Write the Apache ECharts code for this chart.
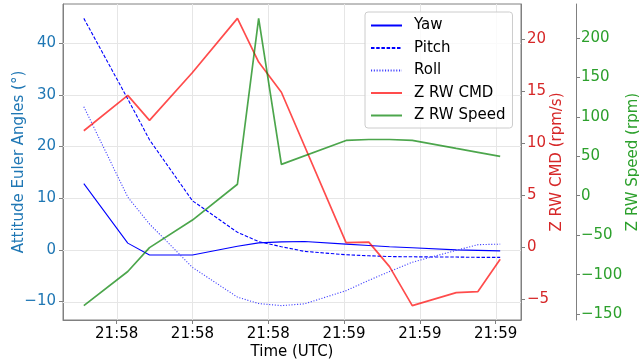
<!DOCTYPE html>
<html><head><meta charset="utf-8">
<script src="https://cdn.jsdelivr.net/npm/echarts@6/dist/echarts.min.js"></script>
<style>html,body{margin:0;padding:0;background:#fff}#c{width:639px;height:364px}</style>
</head><body><div id="c"></div>
<script>
// ---- data ----
const attTimes = ['21:58:08.5','21:58:17.2','21:58:21.5','21:58:30.0','21:58:38.9','21:58:43.1','21:58:47.6','21:58:52.2','21:59:00.4','21:59:04.9','21:59:09.0','21:59:13.5','21:59:22.2','21:59:26.5','21:59:30.9'];
const yaw   = [12.8, 1.3, -1.0, -1.0, 0.7, 1.35, 1.55, 1.6, 1.1, 0.85, 0.6, 0.4, 0.0, -0.1, -0.2];
const pitch = [44.8, 29.2, 21.3, 9.5, 3.4, 1.6, 0.6, -0.3, -0.95, -1.15, -1.3, -1.35, -1.4, -1.45, -1.45];
const roll  = [27.7, 10.2, 5.0, -3.4, -9.15, -10.4, -10.8, -10.45, -7.9, -5.9, -4.2, -2.4, -0.1, 1.0, 1.1];
const rwTimes = ['21:58:08.5','21:58:17.2','21:58:21.5','21:58:30.0','21:58:38.9','21:58:43.1','21:58:47.6','21:59:00.4','21:59:04.9','21:59:09.0','21:59:13.5','21:59:22.2','21:59:26.5','21:59:30.9'];
const rwCmd   = [11.2, 14.6, 12.2, 16.8, 22.0, 17.8, 14.9, 0.45, 0.5, -1.85, -5.6, -4.35, -4.25, -1.15];
const rwSpeed = [-139.3, -96.1, -65.8, -30.9, 14.5, 224.7, 39.7, 70.0, 71.2, 71.2, 70.0, 59.9, 55.0, 49.8];
const xTickTimes = ['21:58:15','21:58:30','21:58:45','21:59:00','21:59:15','21:59:30'];
const angleTicks = [-10, 0, 10, 20, 30, 40];
const cmdTicks = [-5, 0, 5, 10, 15, 20];
const speedTicks = [-150, -100, -50, 0, 50, 100, 150, 200];

// ---- helpers ----
const toSec = s => { const p = s.split(':'); return (+p[0])*3600 + (+p[1])*60 + parseFloat(p[2]); };
const pad = vals => { const mn = Math.min(...vals), mx = Math.max(...vals), r = mx - mn; return [mn - 0.05*r, mx + 0.05*r]; };
const pairs = (ts, vs) => ts.map((t, i) => [toSec(t), vs[i]]);
const minus = v => String(v).replace('-', '\u2212');
const FONT = 'DejaVu Sans';
const SPINE = '#808080';
const GRID = '#e6e6e6';
const C_BLUE = '#1f77b4', C_RED = '#d62728', C_GREEN = '#2ca02c';

const xr = pad(attTimes.map(toSec).concat(rwTimes.map(toSec)));
const ar = pad(yaw.concat(pitch, roll));
const cr = pad(rwCmd);
const sr = pad(rwSpeed);
const xTicks = xTickTimes.map(toSec);

const fmtTime = v => { const h = Math.floor(v/3600), m = Math.floor((v%3600)/60); return h + ':' + String(m).padStart(2,'0'); };

// grid lines drawn through the axes' own scales
const gridRender = (params, api) => {
  const cs = params.coordSys;
  const kind = api.value(0), v = api.value(1);
  if (kind === 0) {
    const x = Math.round(api.coord([v, ar[0]])[0]) + 0.5;
    return {type: 'line', shape: {x1: x, y1: cs.y, x2: x, y2: cs.y + cs.height}, style: {stroke: GRID, lineWidth: 1}, silent: true};
  }
  const y = Math.round(api.coord([xr[0], v])[1]) + 0.5;
  return {type: 'line', shape: {x1: cs.x, y1: y, x2: cs.x + cs.width, y2: y}, style: {stroke: GRID, lineWidth: 1}, silent: true};
};
const gridData = xTicks.map(v => [0, v]).concat(angleTicks.map(v => [1, v]));

const chart = echarts.init(document.getElementById('c'), null, {renderer: 'canvas'});
chart.setOption({
  animation: false,
  textStyle: {fontFamily: FONT},
  grid: {left: 63, right: 118, top: 4, bottom: 44, show: true, borderColor: SPINE, borderWidth: 1,
         backgroundColor: 'transparent', outerBoundsMode: 'none', containLabel: false},
  legend: {
    orient: 'vertical', left: 365, top: 12, selectedMode: false,
    itemWidth: 31, itemHeight: 14, itemGap: 7.5,
    padding: [6, 7, 5, 5],
    backgroundColor: 'rgba(255,255,255,0.8)', borderColor: '#cccccc', borderWidth: 1, borderRadius: 3,
    itemStyle: {opacity: 0},
    textStyle: {fontSize: 15, color: '#000', fontFamily: FONT, padding: [0,0,0,7]},
    data: ['Yaw', 'Pitch', 'Roll', 'Z RW CMD', 'Z RW Speed']
  },
  xAxis: {
    type: 'value', min: xr[0], max: xr[1],
    name: 'Time (UTC)', nameLocation: 'middle', nameGap: 25, nameMoveOverlap: false,
    nameTextStyle: {fontSize: 15, color: '#000', fontFamily: FONT},
    axisLine: {show: true, onZero: false, lineStyle: {color: SPINE}},
    axisTick: {show: true, length: 4, customValues: xTicks, lineStyle: {color: SPINE}},
    axisLabel: {customValues: xTicks, formatter: fmtTime, fontSize: 15, color: '#000', margin: 7, fontFamily: FONT},
    splitLine: {show: false}
  },
  yAxis: [
    {
      type: 'value', position: 'left', min: ar[0], max: ar[1],
      name: 'Attitude Euler Angles (°)', nameLocation: 'middle', nameGap: 36, nameMoveOverlap: false,
      nameTextStyle: {fontSize: 15, color: C_BLUE, fontFamily: FONT},
      axisLine: {show: true, onZero: false, lineStyle: {color: SPINE}},
      axisTick: {show: true, length: 4, customValues: angleTicks, lineStyle: {color: SPINE}},
      axisLabel: {customValues: angleTicks, formatter: minus, fontSize: 15, color: C_BLUE, margin: 7, fontFamily: FONT},
      splitLine: {show: false}
    },
    {
      type: 'value', position: 'right', offset: 0, min: cr[0], max: cr[1],
      name: 'Z RW CMD (rpm/s)', nameLocation: 'middle', nameGap: 29, nameMoveOverlap: false,
      nameTextStyle: {fontSize: 15, color: C_RED, fontFamily: FONT},
      axisLine: {show: true, onZero: false, lineStyle: {color: SPINE}},
      axisTick: {show: true, length: 4, customValues: cmdTicks, lineStyle: {color: SPINE}},
      axisLabel: {customValues: cmdTicks, formatter: minus, fontSize: 15, color: C_RED, margin: 6, fontFamily: FONT},
      splitLine: {show: false}
    },
    {
      type: 'value', position: 'right', offset: 55, min: sr[0], max: sr[1],
      name: 'Z RW Speed (rpm)', nameLocation: 'middle', nameGap: 49.5, nameMoveOverlap: false,
      nameTextStyle: {fontSize: 15, color: C_GREEN, fontFamily: FONT},
      axisLine: {show: true, onZero: false, lineStyle: {color: SPINE}},
      axisTick: {show: true, length: 4, customValues: speedTicks, lineStyle: {color: SPINE}},
      axisLabel: {customValues: speedTicks, formatter: minus, fontSize: 15, color: C_GREEN, margin: 5, fontFamily: FONT},
      splitLine: {show: false}
    }
  ],
  series: [
    {name: 'gridlines', type: 'custom', yAxisIndex: 0, z: 1, silent: true, clip: false,
     renderItem: gridRender, data: gridData, encode: {x: -1, y: -1}},
    {name: 'Yaw', type: 'line', yAxisIndex: 0, symbol: 'none', data: pairs(attTimes, yaw),
     lineStyle: {color: '#0000ff', width: 1.1}, itemStyle: {color: '#0000ff'}},
    {name: 'Pitch', type: 'line', yAxisIndex: 0, symbol: 'none', data: pairs(attTimes, pitch),
     lineStyle: {color: '#0000ff', width: 1.1, type: [3.5, 1.7]}, itemStyle: {color: '#0000ff'}},
    {name: 'Roll', type: 'line', yAxisIndex: 0, symbol: 'none', data: pairs(attTimes, roll),
     lineStyle: {color: '#3c3cff', width: 1.1, type: [1.1, 1.7]}, itemStyle: {color: '#3c3cff'}},
    {name: 'Z RW CMD', type: 'line', yAxisIndex: 1, symbol: 'none', data: pairs(rwTimes, rwCmd),
     lineStyle: {color: 'rgba(255,0,0,0.7)', width: 1.7}, itemStyle: {color: 'rgba(255,0,0,0.7)'}},
    {name: 'Z RW Speed', type: 'line', yAxisIndex: 2, symbol: 'none', data: pairs(rwTimes, rwSpeed),
     lineStyle: {color: 'rgba(0,128,0,0.7)', width: 1.7}, itemStyle: {color: 'rgba(0,128,0,0.7)'}}
  ]
});
</script>
</body></html>
